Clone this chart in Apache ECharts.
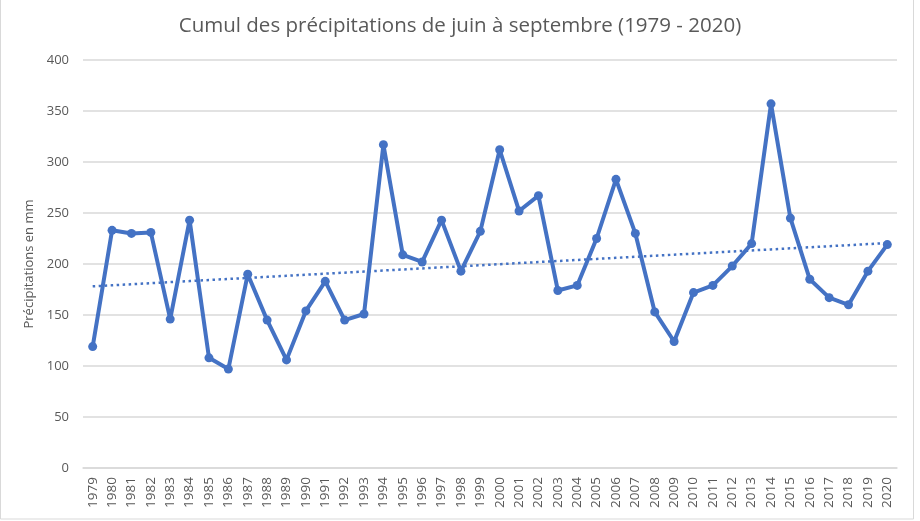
<!DOCTYPE html>
<html>
<head>
<meta charset="utf-8">
<script src="https://cdn.jsdelivr.net/npm/echarts@6/dist/echarts.min.js"></script>
<style>
  html, body { margin: 0; padding: 0; background: #fff; }
  #chart { width: 920px; height: 521px; }
</style>
</head>
<body>
<div id="chart"></div>
<script>
var years = [];
for (var y = 1979; y <= 2020; y++) years.push(String(y));

var cumul = [
    119, 233, 230, 231, 146, 243, 108, 97, 190, 145,
    106, 154, 183, 145, 151, 317, 209, 202, 243, 193,
    232, 312, 252, 267, 174, 179, 225, 283, 230, 153,
    124, 172, 179, 198, 220, 357, 245, 185, 167, 160,
    193, 219
];

// tendance linéaire (moindres carrés), comme la courbe de tendance Excel
var n = cumul.length, sx = 0, sy = 0, sxy = 0, sxx = 0;
for (var i = 0; i < n; i++) {
    sx += i; sy += cumul[i]; sxy += i * cumul[i]; sxx += i * i;
}
var pente = (n * sxy - sx * sy) / (n * sxx - sx * sx);
var origine = (sy - pente * sx) / n;
var tendance = cumul.map(function (v, i) { return +(origine + pente * i).toFixed(2); });

var bleu = '#4472C4';
var gris = '#595959';

var myChart = echarts.init(document.getElementById('chart'));

option = {
    backgroundColor: '#fff',
    animation: false,
    title: {
        text: 'Cumul des précipitations de juin à septembre (1979 - 2020)',
        left: 'center',
        top: 11,
        textStyle: {
            fontFamily: 'Open Sans',
            fontWeight: 'normal',
            fontSize: 20.5,
            color: gris
        }
    },
    grid: {
        left: 83,
        right: 23,
        top: 60,
        bottom: 53
    },
    xAxis: {
        type: 'category',
        data: years,
        boundaryGap: true,
        axisLine: { lineStyle: { color: '#d9d9d9', width: 1.5 } },
        axisTick: { show: false },
        axisLabel: {
            rotate: 90,
            interval: 0,
            margin: 9,
            fontFamily: 'Open Sans',
            fontSize: 13.5,
            color: gris
        }
    },
    yAxis: {
        type: 'value',
        min: 0,
        max: 400,
        interval: 50,
        name: 'Précipitations en mm',
        nameLocation: 'middle',
        nameGap: 44,
        nameTextStyle: {
            fontFamily: 'Open Sans',
            fontSize: 13,
            color: gris
        },
        axisLine: { show: false },
        axisTick: { show: false },
        axisLabel: {
            margin: 14,
            fontFamily: 'Open Sans',
            fontSize: 13,
            color: gris
        },
        splitLine: { lineStyle: { color: '#d9d9d9', width: 1.5 } }
    },
    series: [
        {
            name: 'Cumul',
            type: 'line',
            data: cumul,
            symbol: 'circle',
            symbolSize: 9,
            lineStyle: { color: bleu, width: 4 },
            itemStyle: { color: bleu },
            z: 3
        },
        {
            name: 'Tendance',
            type: 'line',
            data: tendance,
            symbol: 'none',
            lineStyle: { color: bleu, width: 2.5, type: [2.5, 3.5] },
            z: 2
        }
    ],
    graphic: [
        {
            type: 'rect',
            shape: { x: 0.5, y: -2, width: 913, height: 521 },
            style: { fill: 'none', stroke: '#d9d9d9', lineWidth: 1 },
            silent: true
        }
    ]
};

myChart.setOption(option);
</script>
</body>
</html>
